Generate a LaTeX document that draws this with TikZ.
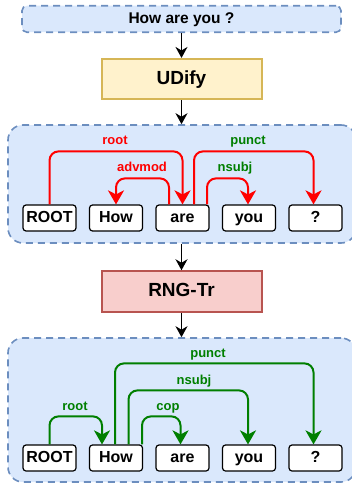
\documentclass[tikz,border=0pt]{standalone}
\usepackage{fontspec}
\setmainfont{Liberation Sans}
\usetikzlibrary{arrows.meta,calc}
\definecolor{panelfill}{HTML}{DAE8FC}
\definecolor{panelline}{HTML}{6C8EBF}
\definecolor{yfill}{HTML}{FFF2CC}
\definecolor{yline}{HTML}{D6B656}
\definecolor{rfill}{HTML}{F8CECC}
\definecolor{rline}{HTML}{B85450}
\definecolor{dgreen}{HTML}{007F00}
\definecolor{bred}{HTML}{FF0000}
\begin{document}
\begin{tikzpicture}[x=1pt,y=-1pt,
  panel/.style={draw=panelline, fill=panelfill, line width=1.6pt, dash pattern=on 7pt off 5pt, rounded corners=15pt, inner sep=0pt},
  inbox/.style={draw=panelline, fill=panelfill, line width=1.6pt, dash pattern=on 7pt off 5pt, rounded corners=5pt, inner sep=0pt, minimum width=319pt, minimum height=26.5pt, text height=11.5pt, text depth=3.3pt, font=\bfseries\fontsize{15.5}{16}\selectfont},
  model/.style={line width=2pt, inner sep=0pt, minimum width=160pt, minimum height=40.5pt, text height=14pt, text depth=4pt, font=\bfseries\fontsize{19}{20}\selectfont},
  word/.style={draw=black, fill=white, line width=1.2pt, rounded corners=3pt, minimum width=53pt, minimum height=26pt, inner sep=0pt, text height=11.6pt, text depth=3.4pt, font=\bfseries\fontsize{16}{16}\selectfont},
  conn/.style={draw=black, line width=1.3pt, -{Stealth[length=11pt,width=12pt,inset=3.5pt]}},
  arc/.style={line width=2pt, rounded corners=9pt, -{Stealth[length=14pt,width=16pt,inset=4pt]}},
  redarc/.style={arc, draw=bred},
  grnarc/.style={arc, draw=dgreen},
  lab/.style={font=\bfseries\fontsize{13}{13}\selectfont, inner sep=0pt, text height=9.5pt, text depth=2.8pt}
]
\useasboundingbox (0,0) rectangle (351,484);

% panels and boxes
\node[inbox] (input) at (181.5,19) {How are you ?};
\node[model, draw=yline, fill=yfill] (udify) at (181.5,79.2) {UDify};
\node[panel, minimum width=348pt, minimum height=118pt] (p1) at (182,184) {};
\node[model, draw=rline, fill=rfill] (rng) at (181.5,291.5) {RNG-Tr};
\node[panel, minimum width=348pt, minimum height=144pt] (p2) at (182,410) {};

\draw[conn] (input.south) -- (udify.north);
\draw[conn] (udify.south) -- (p1.north -| udify.south);
\draw[conn] (p1.south -| rng.north) -- (rng.north);
\draw[conn] (rng.south) -- (p2.north -| rng.south);

% row 1 words
\node[word] (a0) at (49.5,218) {ROOT};
\node[word] (a1) at (116,218) {How};
\node[word] (a2) at (182.5,218) {are};
\node[word] (a3) at (249,218) {you};
\node[word] (a4) at (315.5,218) {?};

% row 1 arcs
\draw[redarc] (a0.north) -- ++(0,-53) -| (a2.north);
\draw[redarc] ($(a2.north)+(-13.5,0)$) -- ++(0,-26) -| (a1.north);
\draw[redarc] ($(a2.north)+(11.5,0)$) -- ++(0,-53) -| ($(a4.north)+(-2,0)$);
\draw[redarc] ($(a2.north)+(24.5,0)$) -- ++(0,-26) -| ($(a3.north)+(-1,0)$);

\node[lab, text=bred] (la0) at (115,141) {root};
\node[lab, text=bred] (la1) at (142,168) {advmod};
\node[lab, text=dgreen] (la2) at (248,141) {punct};
\node[lab, text=dgreen] (la3) at (235,168) {nsubj};

% row 2 words
\node[word] (b0) at (49.5,458) {ROOT};
\node[word] (b1) at (116,458) {How};
\node[word] (b2) at (182.5,458) {are};
\node[word] (b3) at (249,458) {you};
\node[word] (b4) at (315.5,458) {?};

% row 2 arcs
\draw[grnarc] (b0.north) -- ++(0,-28) -| ($(b1.north)+(-14,0)$);
\draw[grnarc] ($(b1.north)+(26,0)$) -- ++(0,-28) -| ($(b2.north)+(-2,0)$);
\draw[grnarc] ($(b1.north)+(12.5,0)$) -- ++(0,-54) -| ($(b3.north)+(-1,0)$);
\draw[grnarc] ($(b1.north)+(-1,0)$) -- ++(0,-81) -| ($(b4.north)+(-2,0)$);

\node[lab, text=dgreen] (lb0) at (75,407) {root};
\node[lab, text=dgreen] (lb1) at (168,407) {cop};
\node[lab, text=dgreen] (lb2) at (194,381) {nsubj};
\node[lab, text=dgreen] (lb3) at (208,354) {punct};
\end{tikzpicture}
\end{document}
